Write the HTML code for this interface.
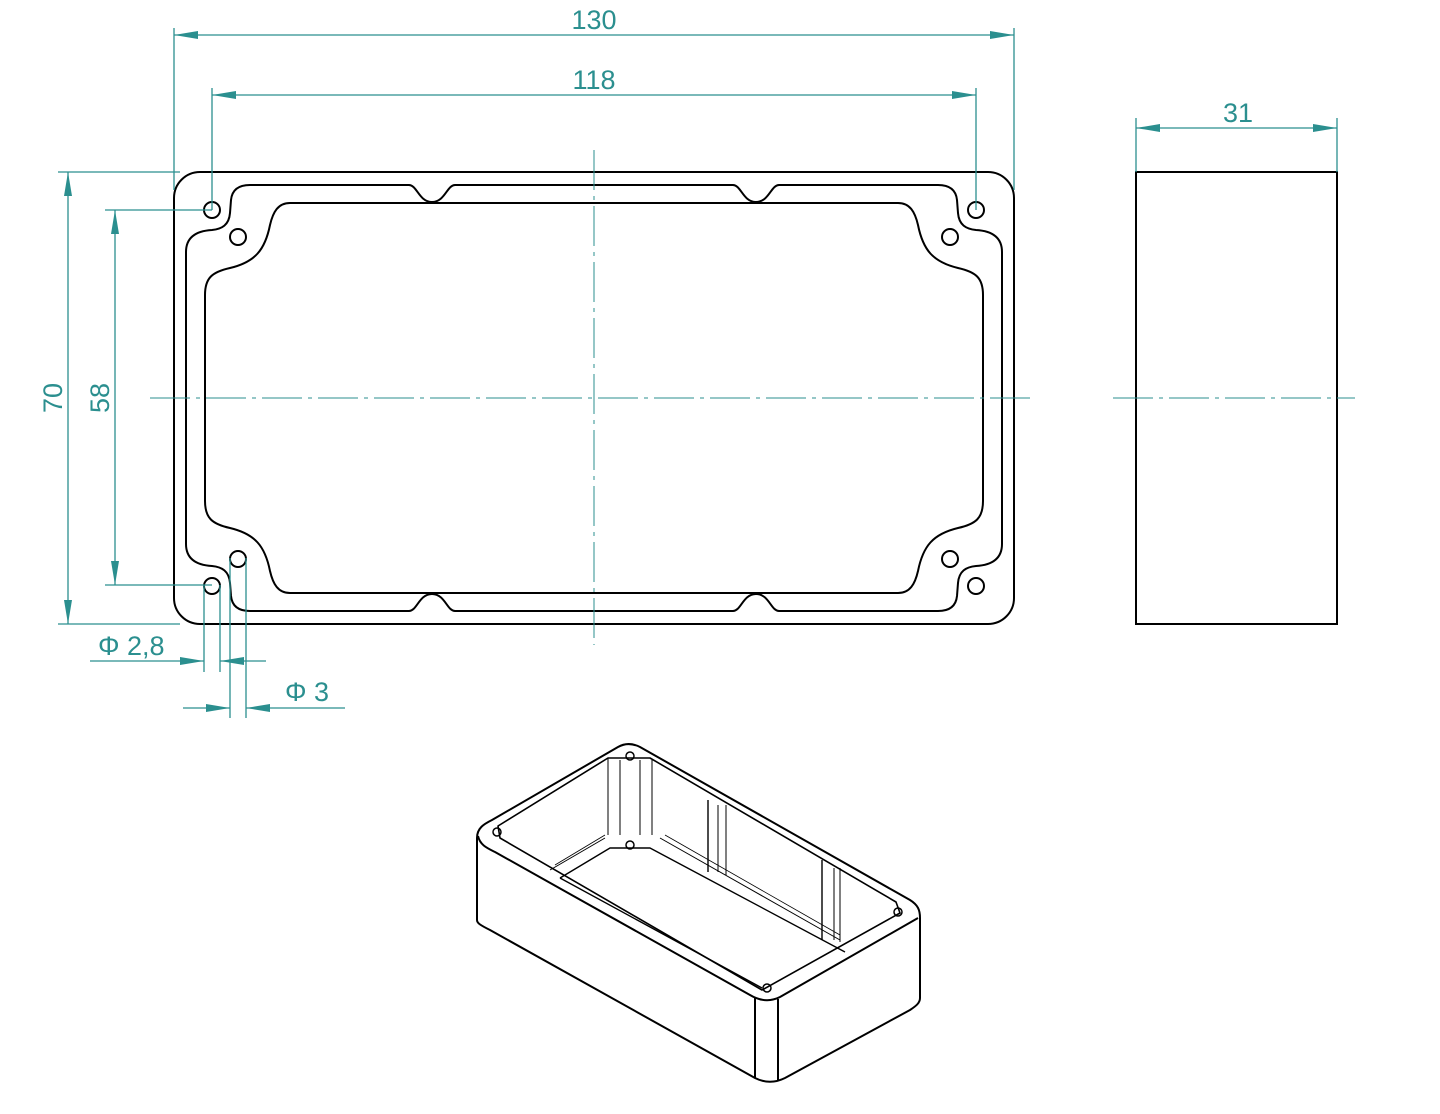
<!DOCTYPE html>
<html><head><meta charset="utf-8"><style>
html,body{margin:0;padding:0;background:#fff;}
svg{display:block;}
text{font-family:"Liberation Sans",sans-serif;fill:#2b8f8f;font-size:27px;}
</style></head><body>
<svg width="1440" height="1114" viewBox="0 0 1440 1114" xmlns="http://www.w3.org/2000/svg">
<defs>
<g id="q" fill="none" stroke="#000" stroke-width="2">
<path d="M594,185 L455,185 C447,185 445,202 432,202 C419,202 417,185 409,185 L250,185 C238,185 232,190 231,200 L230,213 C229,225 222,229 212,230 C195,231 186,238 186,252 L186,398"/>
<path d="M594,203 L290,203 C278,203 273,212 270,225 C265,250 255,262 230,268 C212,272 205,278 205,295 L205,398"/>
<circle cx="212" cy="210" r="8"/>
<circle cx="238" cy="237" r="8"/>
</g>
<path id="ar" d="M0,0 L-24,-4 L-24,4 Z" fill="#2b8f8f"/>
</defs>
<rect x="174" y="172" width="840" height="452" rx="26" fill="none" stroke="#000" stroke-width="2"/>
<use href="#q"/>
<use href="#q" transform="translate(1188,0) scale(-1,1)"/>
<use href="#q" transform="translate(0,796) scale(1,-1)"/>
<use href="#q" transform="translate(1188,796) scale(-1,-1)"/>
<rect x="1136" y="172" width="201" height="452" fill="none" stroke="#000" stroke-width="2"/>
<g stroke="#2b8f8f" stroke-width="1" fill="none" stroke-dasharray="40,6,4,6">
<line x1="150" y1="398" x2="1035" y2="398"/>
<line x1="1113" y1="398" x2="1355" y2="398"/>
<line x1="594" y1="150" x2="594" y2="645"/>
</g>
<g stroke="#2b8f8f" stroke-width="1.3" fill="none">
<line x1="174" y1="28" x2="174" y2="190"/><line x1="1014" y1="28" x2="1014" y2="190"/>
<line x1="174" y1="35" x2="1014" y2="35"/>
<line x1="212" y1="88" x2="212" y2="210"/><line x1="976" y1="88" x2="976" y2="210"/>
<line x1="212" y1="95" x2="976" y2="95"/>
<line x1="1136" y1="118" x2="1136" y2="172"/><line x1="1337" y1="118" x2="1337" y2="172"/>
<line x1="1136" y1="128" x2="1337" y2="128"/>
<line x1="58" y1="172" x2="180" y2="172"/><line x1="58" y1="624" x2="180" y2="624"/>
<line x1="68" y1="172" x2="68" y2="624"/>
<line x1="105" y1="210" x2="212" y2="210"/><line x1="105" y1="585" x2="212" y2="585"/>
<line x1="115" y1="210" x2="115" y2="585"/>
<line x1="204" y1="585" x2="204" y2="672"/><line x1="220" y1="585" x2="220" y2="672"/>
<line x1="90" y1="661" x2="204" y2="661"/><line x1="220" y1="661" x2="266" y2="661"/>
<line x1="230" y1="558" x2="230" y2="718"/><line x1="246" y1="558" x2="246" y2="718"/>
<line x1="183" y1="708" x2="230" y2="708"/><line x1="246" y1="708" x2="345" y2="708"/>
</g>
<g>
<use href="#ar" transform="translate(174,35) rotate(180)"/><use href="#ar" transform="translate(1014,35)"/>
<use href="#ar" transform="translate(212,95) rotate(180)"/><use href="#ar" transform="translate(976,95)"/>
<use href="#ar" transform="translate(1136,128) rotate(180)"/><use href="#ar" transform="translate(1337,128)"/>
<use href="#ar" transform="translate(68,172) rotate(-90)"/><use href="#ar" transform="translate(68,624) rotate(90)"/>
<use href="#ar" transform="translate(115,210) rotate(-90)"/><use href="#ar" transform="translate(115,585) rotate(90)"/>
<use href="#ar" transform="translate(204,661)"/><use href="#ar" transform="translate(220,661) rotate(180)"/>
<use href="#ar" transform="translate(230,708)"/><use href="#ar" transform="translate(246,708) rotate(180)"/>
</g>
<text x="594" y="29" text-anchor="middle">130</text>
<text x="594" y="89" text-anchor="middle">118</text>
<text x="1238" y="122" text-anchor="middle">31</text>
<text transform="translate(62,398) rotate(-90)" text-anchor="middle">70</text>
<text transform="translate(109,398) rotate(-90)" text-anchor="middle">58</text>
<text x="98" y="655">Φ 2,8</text>
<text x="285" y="701">Φ 3</text>
<g fill="none" stroke="#000" stroke-width="2" stroke-linejoin="round">
<path d="M477,920 L477,838 C477,828 484,824 492,820 L618,747 C625,743 632,743 640,747 L910,900 C918,905 920,910 920,918 L920,998 C920,1003 916,1006 910,1010 L785,1078 C775,1083 765,1083 755,1078 L490,930 C480,925 477,923 477,920 Z"/>
<path d="M478,836 C480,845 487,848 495,852 L750,995 C760,1001 770,1002 780,997 L918,918"/>
<line x1="755" y1="998" x2="755" y2="1078"/><line x1="778" y1="999" x2="778" y2="1080"/>
<path d="M500,838 L498,826 L608,758 L650,758 L896,902 L900,913 L762,990 Z" stroke-width="1.6"/>
<path d="M560,878 L610,848 L650,848 L845,952" stroke-width="1.4"/>
<path d="M560,878 L762,988" stroke-width="1.4"/>
<line x1="608" y1="758" x2="608" y2="835" stroke-width="1"/><line x1="620" y1="760" x2="620" y2="835" stroke-width="1"/>
<line x1="640" y1="760" x2="640" y2="835" stroke-width="1"/><line x1="652" y1="760" x2="652" y2="835" stroke-width="1"/>
<line x1="708" y1="800" x2="708" y2="872" stroke-width="1.4"/><line x1="718" y1="805" x2="718" y2="872" stroke-width="1"/>
<line x1="726" y1="805" x2="726" y2="875" stroke-width="1"/>
<line x1="822" y1="860" x2="822" y2="940" stroke-width="1.4"/><line x1="834" y1="868" x2="834" y2="940" stroke-width="1"/>
<line x1="840" y1="868" x2="840" y2="942" stroke-width="1"/>
<line x1="550" y1="870" x2="605" y2="838" stroke-width="1"/><line x1="555" y1="865" x2="605" y2="835" stroke-width="0.8"/>
<line x1="660" y1="838" x2="840" y2="940" stroke-width="1"/><line x1="665" y1="835" x2="840" y2="935" stroke-width="0.8"/>
<circle cx="630" cy="756" r="4" stroke-width="1.5"/><circle cx="497" cy="832" r="4" stroke-width="1.5"/>
<circle cx="898" cy="912" r="4" stroke-width="1.5"/><circle cx="767" cy="988" r="4" stroke-width="1.5"/>
<circle cx="630" cy="845" r="4" stroke-width="1.5"/>
</g>
</svg>
</body></html>
